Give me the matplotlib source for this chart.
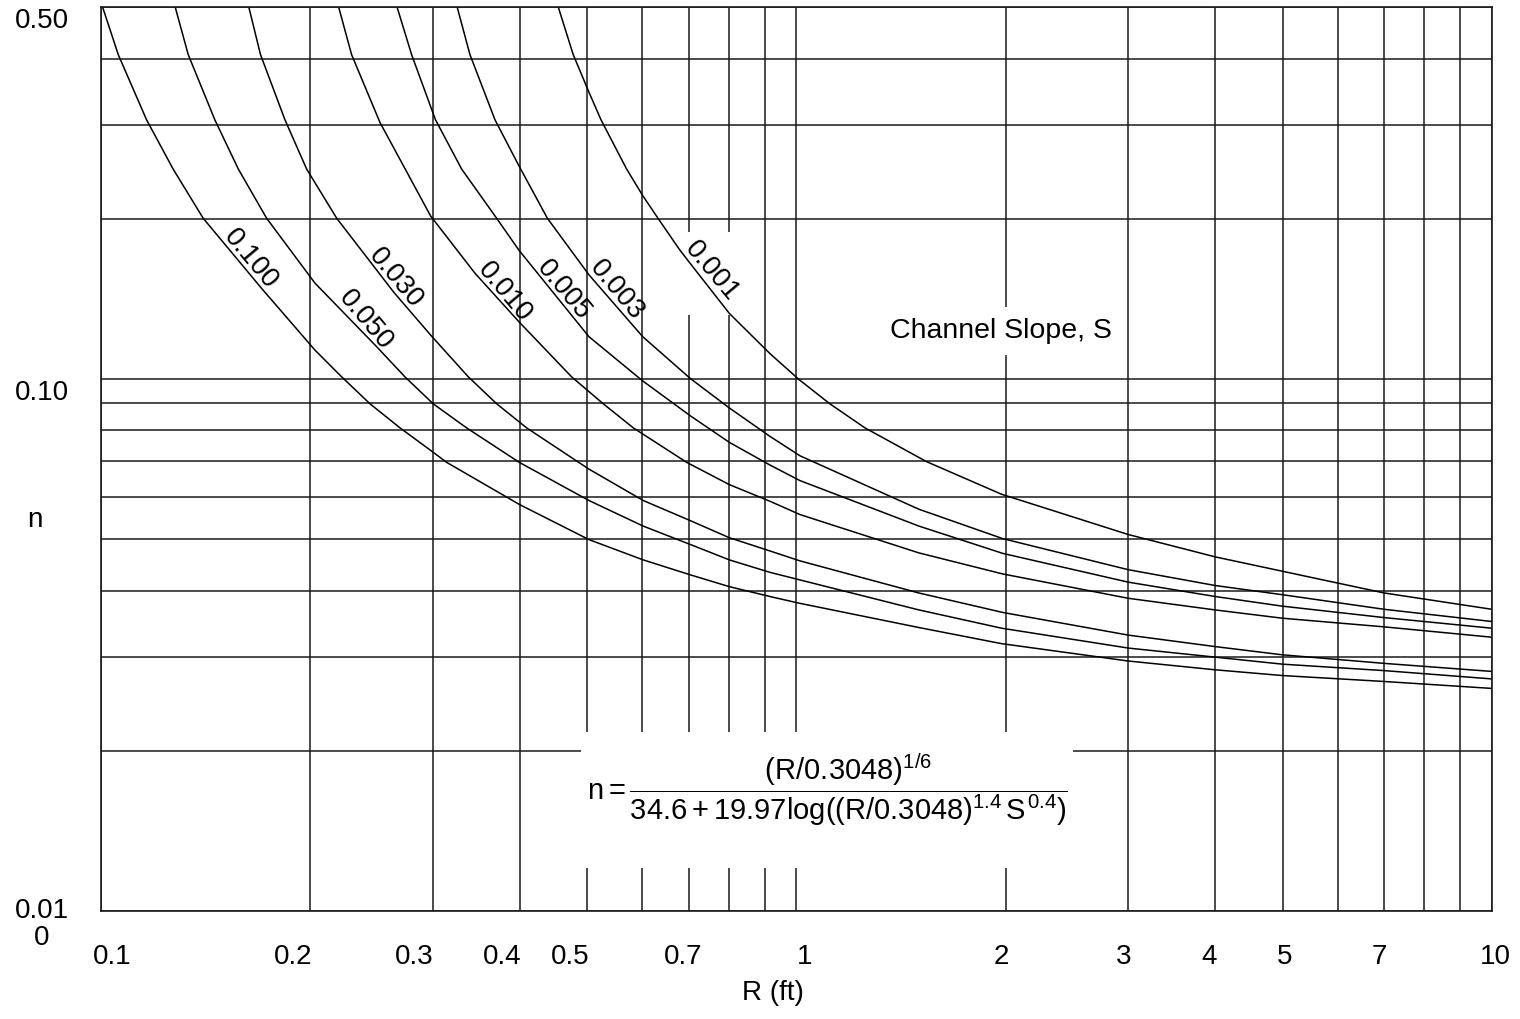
import matplotlib
matplotlib.use("Agg")
import matplotlib.pyplot as plt
from matplotlib.patches import Rectangle
from matplotlib.ticker import NullFormatter
from matplotlib.transforms import ScaledTranslation

plt.rcParams['font.family'] = ['Liberation Sans', 'DejaVu Sans']
plt.rcParams['mathtext.fontset'] = 'custom'
plt.rcParams['mathtext.rm'] = 'Liberation Sans'
plt.rcParams['mathtext.it'] = 'Liberation Sans'
plt.rcParams['mathtext.bf'] = 'Liberation Sans:bold'

### Curves: hydraulic radius R (ft) vs Manning n, one per slope S
slopes = ['0.100', '0.050', '0.030', '0.010', '0.005', '0.003', '0.001']

r_s100 = [0.100, 0.1059, 0.1163, 0.127, 0.1403, 0.1702, 0.2031, 0.2219, 0.2437, 0.2692,
          0.2979, 0.3141, 0.3995, 0.503, 0.602, 0.7052, 0.8008, 0.916, 1.008, 1.50, 1.973,
          3.0, 4.0, 5.0, 7.0, 10.0]
n_s100 = [0.511, 0.407, 0.307, 0.248, 0.2004, 0.148, 0.1133, 0.1009, 0.0898, 0.0809,
          0.0734, 0.0697, 0.0581, 0.0499, 0.0457, 0.0428, 0.0407, 0.0390, 0.0379, 0.0341, 0.0318,
          0.0295, 0.0284, 0.0277, 0.0270, 0.0262]

r_s050 = [0.1273, 0.1335, 0.1458, 0.1576, 0.1731, 0.2031, 0.2491, 0.2736, 0.3004, 0.3356,
          0.3995, 0.503, 0.602, 0.7052, 0.8008, 0.916, 1.012, 1.50, 1.973,
          3.0, 4.0, 5.0, 7.0, 10.0]
n_s050 = [0.511, 0.407, 0.307, 0.248, 0.2004, 0.1514, 0.1150, 0.1009, 0.0898, 0.0809,
          0.0697, 0.0591, 0.0529, 0.0488, 0.0457, 0.0433, 0.0419, 0.0368, 0.0340,
          0.0312, 0.0300, 0.0291, 0.0283, 0.0273]

r_s030 = [0.1625, 0.1696, 0.1839, 0.1976, 0.2183, 0.2638, 0.2979, 0.3375, 0.3707, 0.4094,
          0.503, 0.602, 0.7052, 0.8008, 0.916, 1.012, 1.50, 1.98,
          3.0, 4.0, 5.0, 7.0, 10.0]
n_s030 = [0.511, 0.407, 0.307, 0.248, 0.2004, 0.1454, 0.1209, 0.1009, 0.0898, 0.0809,
          0.0677, 0.0591, 0.0541, 0.0503, 0.0475, 0.0455, 0.0396, 0.0364,
          0.0330, 0.0314, 0.0303, 0.0292, 0.0282]

r_s010 = [0.2187, 0.2293, 0.2519, 0.2979, 0.3450, 0.399, 0.4751, 0.5276, 0.5828, 0.6953,
          0.8008, 0.916, 1.012, 1.50, 1.98, 3.0, 4.0, 5.0, 7.0, 10.0]
n_s010 = [0.511, 0.407, 0.3034, 0.2024, 0.158, 0.1281, 0.1009, 0.0898, 0.0809, 0.0697,
          0.0633, 0.0589, 0.0556, 0.0471, 0.0430, 0.0387, 0.0368, 0.0355, 0.0342, 0.0327]

r_s005 = [0.2652, 0.2797, 0.3027, 0.3301, 0.3707, 0.399, 0.503, 0.6014, 0.7052, 0.8008,
          0.916, 1.012, 1.50, 1.98, 3.0, 4.0, 5.0, 7.0, 10.0]
n_s005 = [0.511, 0.407, 0.307, 0.248, 0.2004, 0.1746, 0.1201, 0.0991, 0.0851, 0.0760,
          0.0689, 0.0644, 0.0529, 0.0470, 0.0415, 0.0390, 0.0374, 0.0356, 0.0340]

r_s003 = [0.3238, 0.3393, 0.3686, 0.399, 0.4385, 0.503, 0.601, 0.7044, 0.8008, 0.916,
          1.012, 1.50, 1.98, 3.0, 4.0, 5.0, 7.0, 10.0]
n_s003 = [0.511, 0.407, 0.307, 0.2516, 0.2004, 0.157, 0.1201, 0.1001, 0.0882, 0.0780,
          0.0717, 0.0569, 0.0501, 0.0438, 0.0409, 0.0393, 0.0369, 0.0350]

r_s001 = [0.4522, 0.4776, 0.503, 0.5236, 0.570, 0.6016, 0.6324, 0.680, 0.7052, 0.8008,
          0.916, 1.009, 1.117, 1.255, 1.539, 1.973, 3.0, 4.0, 5.0, 7.0, 10.0]
n_s001 = [0.511, 0.407, 0.3462, 0.307, 0.248, 0.2208, 0.2004, 0.1746, 0.1642, 0.1328,
          0.1116, 0.0997, 0.0898, 0.0809, 0.0699, 0.0607, 0.0510, 0.0463, 0.0435, 0.0396, 0.0369]

curves_r = [r_s100, r_s050, r_s030, r_s010, r_s005, r_s003, r_s001]
curves_n = [n_s100, n_s050, n_s030, n_s010, n_s005, n_s003, n_s001]

# where each slope label sits along its curve
label_r = [0.164, 0.240, 0.265, 0.381, 0.462, 0.552, 0.754]
label_n = [0.168, 0.129, 0.1545, 0.1454, 0.1467, 0.1467, 0.1593]

x_ticks = [0.1, 0.2, 0.3, 0.4, 0.5, 0.7, 1, 2, 3, 4, 5, 7, 10]
x_tick_labels = ['0.1', '0.2', '0.3', '0.4', '0.5', '0.7', '1', '2', '3', '4', '5', '7', '10']
y_ticks = [0.01, 0.1, 0.5]
y_tick_labels = ['0.01\n0', '0.10', '0.50']
y_minor = [0.02, 0.03, 0.04, 0.05, 0.06, 0.07, 0.08, 0.09, 0.2, 0.3, 0.4]

### Figure
fig = plt.figure(figsize=(15.2, 10.19), dpi=100)
ax = fig.add_axes([0.0664, 0.106, 0.9151, 0.8871])
ax.set_xscale('log')
ax.set_yscale('log')
ax.set_xlim(0.1, 10)
ax.set_ylim(0.01, 0.5)

ax.set_axisbelow(True)
ax.grid(True, which='both', color='#1a1a1a', lw=1.1)
for sp in ax.spines.values():
    sp.set_color('#1a1a1a')
    sp.set_linewidth(1.2)

ax.tick_params(axis='both', which='both', length=0, labelsize=20)
ax.tick_params(axis='x', pad=24)
ax.tick_params(axis='y', pad=42.5)

ax.set_xticks(x_ticks, x_tick_labels)
ax.xaxis.set_minor_formatter(NullFormatter())
ax.set_yticks(y_ticks, y_tick_labels, ha='center', va='center', linespacing=1.05)
ax.set_yticks(y_minor, minor=True)
ax.yaxis.set_minor_formatter(NullFormatter())

# small nudges so tick labels sit where the original has them
x_nudge_px = [11, -17, -19, -17, -17, -6, 8, -4, -5, -6, 2, -5, 3]
for lab, dx in zip(ax.get_xticklabels(), x_nudge_px):
    lab.set_transform(lab.get_transform() + ScaledTranslation(dx / 100, 0, fig.dpi_scale_trans))
for lab in ax.get_yticklabels():
    lab.set_transform(lab.get_transform() + ScaledTranslation(0, -0.14, fig.dpi_scale_trans))

ax.set_xlabel('R (ft)', fontsize=20, va='center')
ax.xaxis.set_label_coords(0.4831, -0.0907)
ax.set_ylabel('n', fontsize=20, rotation=0, ha='center', va='center')
ax.yaxis.set_label_coords(-0.0474, 0.4325)

# white patches that break the grid behind the texts
ax.add_patch(Rectangle((0.345, 0.0476), 0.354, 0.150, transform=ax.transAxes,
                       facecolor='white', edgecolor='none', zorder=1))
ax.add_patch(Rectangle((0.687, 0.132), 0.142, 0.057, facecolor='white',
                       edgecolor='none', zorder=1))

for r, n in zip(curves_r, curves_n):
    ax.plot(r, n, color='black', lw=1.1, zorder=2)

for s, r, n in zip(slopes, label_r, label_n):
    ax.text(r, n, s, fontsize=20, rotation=-50, ha='center', va='center', zorder=3)

ax.text(0.647, 0.6416, 'Channel Slope, S', transform=ax.transAxes, fontsize=20.5,
        ha='center', va='center', zorder=3,
        bbox=dict(boxstyle='square,pad=0.4', facecolor='white', edgecolor='none'))

ax.text(0.522, 0.134,
        r'$n = \dfrac{(R/0.3048)^{1/6}}{34.6 + 19.97log((R/0.3048)^{1.4}\,S^{0.4})}$',
        transform=ax.transAxes, fontsize=21, ha='center', va='center', zorder=3)

fig.savefig('out.png', dpi=100)
